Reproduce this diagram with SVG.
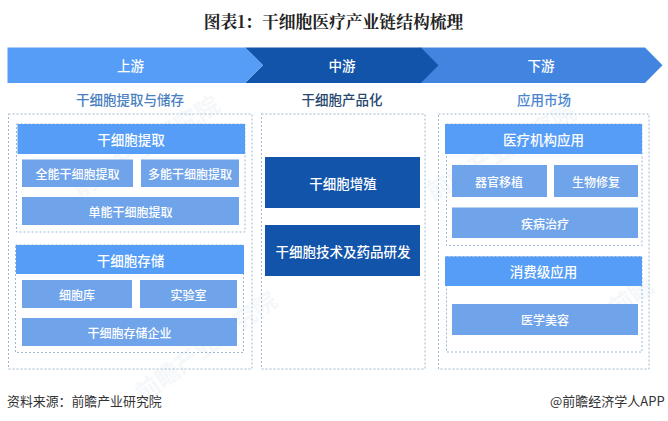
<svg xmlns="http://www.w3.org/2000/svg" width="668" height="421" viewBox="0 0 668 421">
<style>
text{font-family:"Noto Sans CJK SC","Liberation Sans",sans-serif;text-anchor:middle;dominant-baseline:central}
.w{fill:#fff;font-weight:500}
.b1{font-size:13.5px}
.b2{font-size:12px}
.hd{fill:#559df6}
.sub{fill:#70a4ea}
.dk{fill:#1254aa}
.box{fill:none;stroke:#9db8d2;stroke-width:1;stroke-dasharray:2 2}
.sec{font-size:13.5px;font-weight:500}
.wm{fill:#5a7fa8;opacity:.05;font-size:24px;font-weight:700}
.ft{font-size:12.9px;fill:#333;text-anchor:start}
</style>
<rect width="668" height="421" fill="#fff"/>
<g id="watermarks">
<text class="wm" transform="translate(145,145) rotate(-32)">前瞻产业研究院</text>
<text class="wm" transform="translate(205,345) rotate(-36)">前瞻产业研究院</text>
<text class="wm" transform="translate(500,150) rotate(-30)">前瞻产业研究院</text>
<text class="wm" transform="translate(630,295) rotate(-36)">前瞻</text>
</g>
<text id="title" x="333.5" y="21" style="font-family:'Noto Serif CJK SC','Noto Sans CJK SC',serif;font-weight:700;font-size:16.8px;fill:#222">图表1：干细胞医疗产业链结构梳理</text>
<g id="stages">
<g id="s3"><path d="M420 47.5H645L662.5 65.2 645 83H420L438 65.2Z" fill="#4285e0"/><text class="w" x="541" y="65" style="font-size:13.5px">下游</text></g>
<g id="s2"><path d="M245 47.5H421L438.5 65.2 421 83H245L263 65.2Z" class="dk"/><text class="w" x="342" y="65" style="font-size:13.5px">中游</text></g>
<g id="s1"><path d="M7.5 47.5H245L263 65.2 245 83H7.5Z" fill="#559df6"/><text class="w" x="130.500" y="65" style="font-size:13.500px">上游</text></g>
</g>
<text class="sec" x="130" y="99" fill="#4a7fc0">干细胞提取与储存</text>
<text class="sec" x="342" y="99" fill="#27476f">干细胞产品化</text>
<text class="sec" x="544" y="99" fill="#4a86d0">应用市场</text>
<g id="frames">
<rect class="box" x="8.500" y="114" width="243.500" height="255"/>
<rect class="box" x="261.500" y="114" width="163.500" height="255"/>
<rect class="box" x="438.500" y="114" width="210.500" height="255"/>
<rect class="box" x="16.500" y="124" width="228.500" height="108"/>
<rect class="box" x="15.500" y="245" width="228" height="107.500"/>
<rect class="box" x="446.500" y="124" width="195.500" height="121.500"/>
<rect class="box" x="446.500" y="256.500" width="195.500" height="95.500"/>
</g>
<g id="n1"><rect class="hd" x="17.500" y="124" width="227.500" height="30"/><text class="w b1" x="131" y="139">干细胞提取</text></g>
<g id="n2"><rect class="sub" x="22" y="159.500" width="111" height="27.500"/><text class="w b2" x="77.500" y="173">全能干细胞提取</text></g>
<g id="n3"><rect class="sub" x="141" y="159.500" width="98" height="27.500"/><text class="w b2" x="190" y="173">多能干细胞提取</text></g>
<g id="n4"><rect class="sub" x="22" y="197" width="217" height="28"/><text class="w b2" x="130.500" y="211">单能干细胞提取</text></g>
<g id="n5"><rect class="hd" x="16" y="245" width="228" height="29"/><text class="w b1" x="130.500" y="259.500">干细胞存储</text></g>
<g id="n6"><rect class="sub" x="22" y="280" width="110" height="28"/><text class="w b2" x="77" y="294">细胞库</text></g>
<g id="n7"><rect class="sub" x="140" y="280" width="97" height="28"/><text class="w b2" x="188.500" y="294">实验室</text></g>
<g id="n8"><rect class="sub" x="22" y="318" width="215" height="28"/><text class="w b2" x="129.500" y="332">干细胞存储企业</text></g>
<g id="n9"><rect class="dk" x="265" y="157" width="155" height="51"/><text class="w b1" x="343" y="183">干细胞增殖</text></g>
<g id="n10"><rect class="dk" x="265" y="225" width="155" height="51"/><text class="w b1" x="343" y="250.500">干细胞技术及药品研发</text></g>
<g id="n11"><rect class="hd" x="445" y="124" width="197" height="30"/><text class="w b1" x="543.500" y="139">医疗机构应用</text></g>
<g id="n12"><rect class="sub" x="452" y="165" width="95" height="32"/><text class="w b2" x="499" y="181">器官移植</text></g>
<g id="n13"><rect class="sub" x="554" y="165" width="84" height="32"/><text class="w b2" x="596" y="181">生物修复</text></g>
<g id="n14"><rect class="sub" x="452" y="207.500" width="186" height="30.500"/><text class="w b2" x="545" y="223">疾病治疗</text></g>
<g id="n15"><rect class="hd" x="445" y="256.500" width="197" height="29.500"/><text class="w b1" x="543.500" y="271">消费级应用</text></g>
<g id="n16"><rect class="sub" x="452" y="304" width="186" height="31"/><text class="w b2" x="545" y="319">医学美容</text></g>
<text class="ft" x="7" y="400">资料来源：前瞻产业研究院</text>
<text class="ft" x="550" y="400" style="font-size:13px">@前瞻经济学人APP</text>
</svg>
